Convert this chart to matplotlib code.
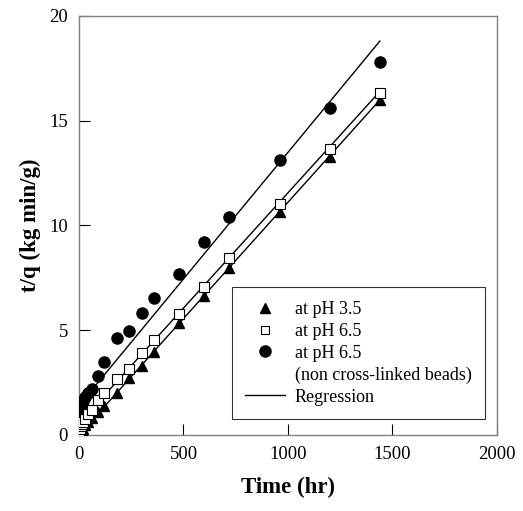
import matplotlib.pyplot as plt
from matplotlib.lines import Line2D

plt.rcParams['font.family'] = ['Liberation Serif', 'DejaVu Serif']

time_hr = [0, 2, 5, 10, 15, 20, 30, 45, 60, 90, 120, 180, 240, 300, 360, 480, 600, 720, 960, 1200, 1440]

ph35 = [0.0, 0.03, 0.1, 0.17, 0.25, 0.3, 0.45, 0.6, 0.8, 1.1, 1.4, 2.0, 2.7, 3.3, 3.95, 5.35, 6.65, 7.95, 10.65, 13.25, 16.0]
ph65 = [0.05, 0.15, 0.3, 0.4, 0.5, 0.6, 0.75, 1.0, 1.2, 1.65, 2.0, 2.65, 3.15, 3.9, 4.55, 5.75, 7.05, 8.45, 11.0, 13.65, 16.3]
ph65_noncl = [0.1, 0.6, 0.9, 1.2, 1.4, 1.6, 1.8, 2.0, 2.2, 2.8, 3.5, 4.6, 4.95, 5.8, 6.55, 7.7, 9.2, 10.4, 13.1, 15.6, 17.8]

# regression lines (intercept, slope)
reg_range = [0, 1440]
reg_intercepts = [0.0, 0.55, 1.4]
reg_slopes = [0.0111, 0.0110, 0.01208]

fig, ax = plt.subplots(figsize=(5.23, 5.11), dpi=100)
fig.subplots_adjust(left=0.151, right=0.950, bottom=0.149, top=0.969)

for b, m in zip(reg_intercepts, reg_slopes):
    ax.plot(reg_range, [b + m * x for x in reg_range], color='black', linewidth=1.0, zorder=2)

ax.plot(time_hr, ph35, linestyle='none', marker='^', markersize=7.5,
        color='black', zorder=3)
ax.plot(time_hr, ph65, linestyle='none', marker='s', markersize=7,
        markerfacecolor='white', markeredgecolor='black', markeredgewidth=0.8, zorder=4)
ax.plot(time_hr, ph65_noncl, linestyle='none', marker='o', markersize=8,
        color='black', zorder=3)

ax.set_xlim(0, 2000)
ax.set_ylim(0, 20)
ax.set_xticks([0, 500, 1000, 1500, 2000])
ax.set_yticks([0, 5, 10, 15, 20])
ax.tick_params(direction='in', length=8, width=0.8, labelsize=13.5, pad=8)
for s in ax.spines.values():
    s.set_color('#808080')
    s.set_linewidth(1.0)

ax.set_xlabel('Time (hr)', fontsize=16.5, fontweight='bold', labelpad=10)
ax.set_ylabel('t/q (kg min/g)', fontsize=16.5, fontweight='bold', labelpad=6)

handles = [
    Line2D([], [], linestyle='none', marker='^', markersize=7.5, color='black'),
    Line2D([], [], linestyle='none', marker='s', markersize=6, markerfacecolor='white',
           markeredgecolor='black', markeredgewidth=0.8),
    Line2D([], [], linestyle='none', marker='o', markersize=8, color='black'),
    Line2D([], [], linestyle='none'),
    Line2D([], [], color='black', linewidth=1.0),
]
labels = ['at pH 3.5', 'at pH 6.5', 'at pH 6.5', '(non cross-linked beads)', 'Regression']
leg = ax.legend(handles, labels, loc='lower right', bbox_to_anchor=(0.972, 0.037),
                fontsize=13, frameon=True, fancybox=False, edgecolor='black',
                handlelength=2.2, handletextpad=0.55, labelspacing=0.27,
                borderpad=0.75, borderaxespad=0.0)
leg.get_frame().set_linewidth(0.8)

fig.savefig('out.png', dpi=100)
